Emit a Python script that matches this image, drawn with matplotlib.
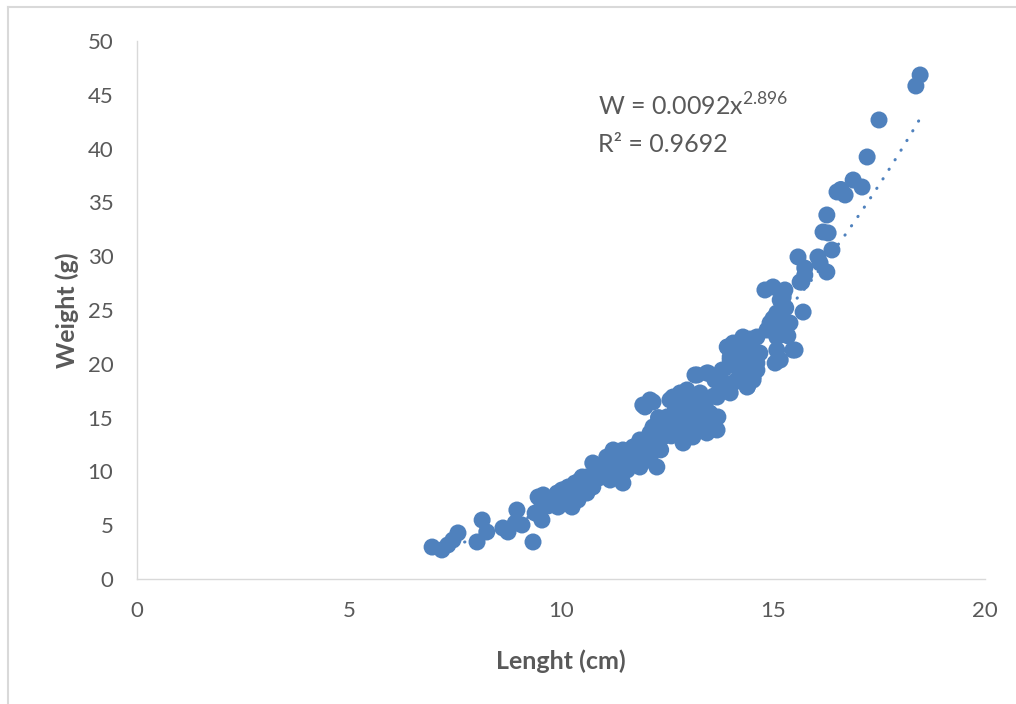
import matplotlib
matplotlib.use("Agg")
import matplotlib.pyplot as plt
from matplotlib.lines import Line2D
import numpy as np

plt.rcParams['font.family'] = ['Lato', 'DejaVu Sans']
plt.rcParams['mathtext.fontset'] = 'custom'
plt.rcParams['mathtext.rm'] = 'Lato'

# Length (cm) and weight (g)
length_low = [6.96, 7.19, 7.33, 7.45, 7.57, 8.02, 8.14, 8.25, 8.63, 8.75, 8.96, 9.08, 8.92, 9.34,
              9.46, 9.39, 9.55, 9.55, 9.69, 9.86, 10.02, 10.17, 10.33, 10.09, 10.26, 10.40, 10.50, 9.93,
              9.58, 9.91, 10.05, 10.28, 10.38, 10.61, 10.75, 10.61, 10.45, 10.92, 11.16, 11.46,
              10.70, 10.90, 10.30, 10.10, 9.80, 9.70, 10.20, 10.55]
weight_low = [2.97, 2.70, 3.16, 3.62, 4.28, 3.44, 5.48, 4.37, 4.74, 4.37, 6.41, 5.02, 5.20, 3.44,
              7.62, 6.13, 5.48, 6.69, 7.34, 7.62, 8.27, 8.55, 8.92, 7.06, 6.69, 7.34, 9.48, 6.69,
              7.81, 7.99, 8.27, 8.55, 7.99, 7.99, 8.55, 9.48, 9.20, 9.85, 9.20, 8.92,
              9.00, 9.40, 8.20, 7.60, 7.20, 6.80, 7.80, 8.70]

length_mid = [11.93, 12.17, 12.57, 12.81, 12.97, 12.50, 12.81, 13.11, 12.17, 12.41, 12.64, 12.88, 13.04,
              11.86, 12.10, 12.33, 11.70, 11.46, 11.23, 11.08, 11.32, 11.63, 11.93, 12.26, 12.10, 11.86,
              11.56, 11.39, 11.08, 10.75, 12.10, 11.98, 12.64, 12.97, 13.28, 13.11, 12.57, 12.88, 13.51,
              13.70, 13.51, 12.41, 12.81, 13.11, 13.68, 13.44, 12.33, 12.10, 13.16, 13.21, 13.44, 13.47,
              13.63, 13.80, 13.75, 13.99, 13.68, 13.51, 12.70, 12.45, 12.95, 13.30, 11.75, 11.55, 12.00,
              12.25, 12.60, 13.00, 13.25, 12.35,
              11.00, 11.20, 11.40, 11.60, 11.80, 12.00, 12.20, 12.40, 12.60, 12.80, 13.00, 13.20, 13.40,
              13.60, 13.80, 12.50, 12.70, 12.90, 12.30, 13.30]
weight_mid = [16.17, 16.45, 16.64, 17.29, 16.64, 15.06, 15.43, 15.99, 14.13, 13.85, 14.13, 12.64, 14.50,
              12.92, 12.64, 12.92, 12.27, 11.99, 11.99, 11.34, 11.06, 11.34, 11.34, 10.41, 11.06, 10.41,
              10.13, 9.85, 10.13, 10.78, 16.64, 15.99, 16.91, 17.57, 17.29, 15.71, 15.06, 14.78, 15.43,
              15.06, 13.85, 13.57, 13.57, 13.20, 13.85, 13.57, 13.85, 13.57, 18.96, 18.96, 19.14, 19.14,
              18.49, 19.42, 17.57, 17.29, 16.91, 14.78, 15.5, 14.6, 16.2, 16.5, 11.8, 11.2, 12.2,
              12.4, 13.3, 14.0, 14.4, 12.0,
              10.6, 10.6, 11.2, 11.8, 12.4, 12.0, 12.5, 13.2, 13.6, 14.4, 15.0, 15.2, 16.0,
              17.0, 18.0, 14.6, 15.8, 16.0, 15.0, 14.5]

length_high = [14.93, 13.94, 14.22, 14.53, 14.69, 13.99, 14.46, 14.15, 14.39, 14.53, 13.92, 14.22,
               14.81, 15.00, 15.28, 15.64, 15.75, 15.71, 15.17, 15.09, 14.93, 14.86, 15.09, 15.24, 15.40,
               15.47, 15.09, 15.05, 15.17, 14.06, 14.29, 14.62, 13.99, 14.46, 14.62, 14.22, 14.62, 14.29,
               13.75, 14.06, 14.53, 14.46, 14.46, 14.46, 14.40, 14.30, 14.10, 15.20, 15.30, 15.00, 15.35]
weight_high = [23.42, 21.56, 21.93, 22.21, 21.00, 20.35, 19.70, 18.49, 17.84, 18.77, 21.56, 21.00,
               26.86, 27.14, 26.86, 27.60, 28.25, 24.81, 25.93, 24.72, 23.79, 23.14, 22.49, 24.07, 23.79,
               21.28, 21.28, 20.07, 20.35, 21.93, 22.49, 22.49, 20.63, 21.00, 20.07, 19.42, 19.42, 18.49,
               18.96, 18.22, 18.49, 22.30, 20.80, 19.00, 17.90, 20.00, 19.80, 23.00, 25.20, 24.20, 22.60]

length_top = [18.47, 18.37, 17.50, 17.22, 16.89, 17.10, 16.51, 16.70, 16.60, 16.27, 16.18, 16.30, 16.39,
              15.59, 15.75, 16.06, 16.11, 16.27, 15.68, 15.24, 15.52]
weight_top = [46.84, 45.82, 42.66, 39.22, 37.08, 36.43, 35.97, 35.69, 36.20, 33.83, 32.25, 32.16, 30.58,
              29.93, 28.90, 29.93, 29.37, 28.53, 27.60, 26.20, 21.28]

fit_a = 0.0092
fit_b = 2.896
equation_text = r"W = 0.0092$\mathrm{x}^{\mathrm{2.896}}$"
r2_text = "R² = 0.9692"

x_ticks = [0, 5, 10, 15, 20]
y_ticks = [0, 5, 10, 15, 20, 25, 30, 35, 40, 45, 50]

length = np.array(length_low + length_mid + length_high + length_top)
weight = np.array(weight_low + weight_mid + weight_high + weight_top)

fig = plt.figure(figsize=(10.16, 7.04), dpi=100)
ax = fig.add_axes([137 / 1016, 1 - 579 / 704, (985 - 137) / 1016, (579 - 41) / 704])

blue = '#4F81BD'
ax.scatter(length, weight, s=150, color=blue, edgecolors='none', zorder=2)

xf = np.linspace(length.min(), length.max(), 200)
ax.plot(xf, fit_a * xf ** fit_b, color=blue, linewidth=2.2,
        linestyle=(0, (0.1, 3.6)), dash_capstyle='round', zorder=3)

ax.set_xlim(0, 20)
ax.set_ylim(0, 50)
ax.set_xticks(x_ticks)
ax.set_yticks(y_ticks)
ax.tick_params(length=0, colors='#595959', labelsize=16)
ax.tick_params(axis='x', pad=16)
ax.tick_params(axis='y', pad=17)
for s in ['top', 'right']:
    ax.spines[s].set_visible(False)
for s in ['left', 'bottom']:
    ax.spines[s].set_color('#d9d9d9')
    ax.spines[s].set_linewidth(1.0)

ax.set_xlabel('Lenght (cm)', fontsize=18, fontweight='bold', color='#595959', labelpad=20)
ax.set_ylabel('Weight (g)', fontsize=18, fontweight='bold', color='#595959', labelpad=6)

ax.text(10.87, 44.0, equation_text, fontsize=18, color='#595959', va='center', ha='left')
ax.text(10.87, 40.4, r2_text, fontsize=18, color='#595959', va='center', ha='left')

border = '#d9d9d9'
fig.add_artist(Line2D([8 / 1016, 1], [1 - 7 / 704, 1 - 7 / 704], color=border, lw=1.5,
                      transform=fig.transFigure))
fig.add_artist(Line2D([8 / 1016, 8 / 1016], [0, 1 - 7 / 704], color=border, lw=1.5,
                      transform=fig.transFigure))

fig.savefig('out.png', dpi=100, facecolor='white')
